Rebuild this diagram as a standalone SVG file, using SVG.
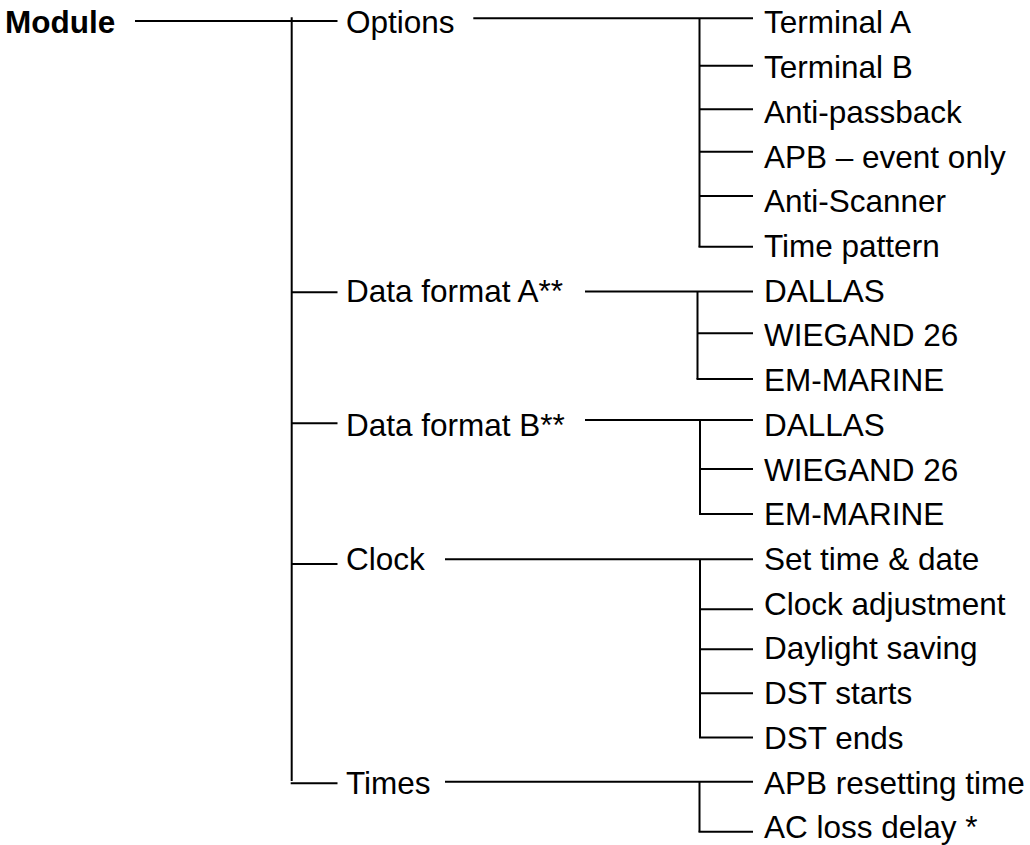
<svg xmlns="http://www.w3.org/2000/svg" width="1030" height="845" viewBox="0 0 1030 845">
<style>
text{font-family:"Liberation Sans",Arial,sans-serif;font-size:31.5px;fill:#000}
.b{font-weight:bold}
.c line{stroke:#000;stroke-width:2;fill:none}
</style>
<rect width="1030" height="845" fill="#fff"/>
<g class="c" id="connectors">
<line x1="135" y1="21" x2="337.5" y2="21"/>
<line x1="291.7" y1="17.3" x2="291.7" y2="781"/>
<line x1="291.7" y1="292.3" x2="337.5" y2="292.3"/>
<line x1="291.7" y1="423.3" x2="337.5" y2="423.3"/>
<line x1="291.7" y1="564" x2="337.5" y2="564"/>
<line x1="290.7" y1="783.3" x2="337.5" y2="783.3"/>
<line x1="473.3" y1="18.3" x2="753" y2="18.3"/>
<line x1="699.5" y1="18.3" x2="699.5" y2="246.7"/>
<line x1="699.5" y1="65.7" x2="753" y2="65.7"/>
<line x1="699.5" y1="109.3" x2="753" y2="109.3"/>
<line x1="699.5" y1="151.7" x2="753" y2="151.7"/>
<line x1="699.5" y1="196" x2="753" y2="196"/>
<line x1="698.5" y1="246.7" x2="753" y2="246.7"/>
<line x1="585" y1="291.5" x2="753" y2="291.5"/>
<line x1="697.5" y1="291.5" x2="697.5" y2="379"/>
<line x1="697.5" y1="333.3" x2="753" y2="333.3"/>
<line x1="696.5" y1="379" x2="753" y2="379"/>
<line x1="585" y1="420" x2="753" y2="420"/>
<line x1="700" y1="420" x2="700" y2="514"/>
<line x1="700" y1="469" x2="753" y2="469"/>
<line x1="699" y1="514" x2="753" y2="514"/>
<line x1="445" y1="559.3" x2="753" y2="559.3"/>
<line x1="700" y1="559.3" x2="700" y2="737.5"/>
<line x1="700" y1="609.3" x2="753" y2="609.3"/>
<line x1="700" y1="649.3" x2="753" y2="649.3"/>
<line x1="700" y1="693.3" x2="753" y2="693.3"/>
<line x1="699" y1="737.5" x2="753" y2="737.5"/>
<line x1="445" y1="781.7" x2="753" y2="781.7"/>
<line x1="699.5" y1="781.7" x2="699.5" y2="831.7"/>
<line x1="698.5" y1="831.7" x2="753" y2="831.7"/>
</g>
<g id="module"><text class="b" x="5" y="33.3">Module</text></g>
<g id="options"><text x="346" y="33.3">Options</text></g>
<g id="dataA"><text x="346" y="301.6">Data format A**</text></g>
<g id="dataB"><text x="346" y="435.8">Data format B**</text></g>
<g id="clock"><text x="346" y="570">Clock</text></g>
<g id="times"><text x="346" y="793.5">Times</text></g>
<g id="termA"><text x="764" y="33.3">Terminal A</text></g>
<g id="termB"><text x="764" y="78">Terminal B</text></g>
<g id="apb"><text x="764" y="122.7">Anti-passback</text></g>
<g id="apbevent"><text x="764" y="167.5">APB – event only</text></g>
<g id="antiscan"><text x="764" y="212.2">Anti-Scanner</text></g>
<g id="timepat"><text x="764" y="256.9">Time pattern</text></g>
<g id="dallasA"><text x="764" y="301.6">DALLAS</text></g>
<g id="wiegA"><text x="764" y="346.3">WIEGAND 26</text></g>
<g id="emA"><text x="764" y="391.1">EM-MARINE</text></g>
<g id="dallasB"><text x="764" y="435.8">DALLAS</text></g>
<g id="wiegB"><text x="764" y="480.5">WIEGAND 26</text></g>
<g id="emB"><text x="764" y="525.2">EM-MARINE</text></g>
<g id="settime"><text x="764" y="570">Set time &amp; date</text></g>
<g id="clockadj"><text x="764" y="614.7">Clock adjustment</text></g>
<g id="daylight"><text x="764" y="659.4">Daylight saving</text></g>
<g id="dststart"><text x="764" y="704.1">DST starts</text></g>
<g id="dstend"><text x="764" y="748.8">DST ends</text></g>
<g id="apbreset"><text x="764" y="793.5">APB resetting time</text></g>
<g id="acloss"><text x="764" y="838.3">AC loss delay *</text></g>
</svg>
